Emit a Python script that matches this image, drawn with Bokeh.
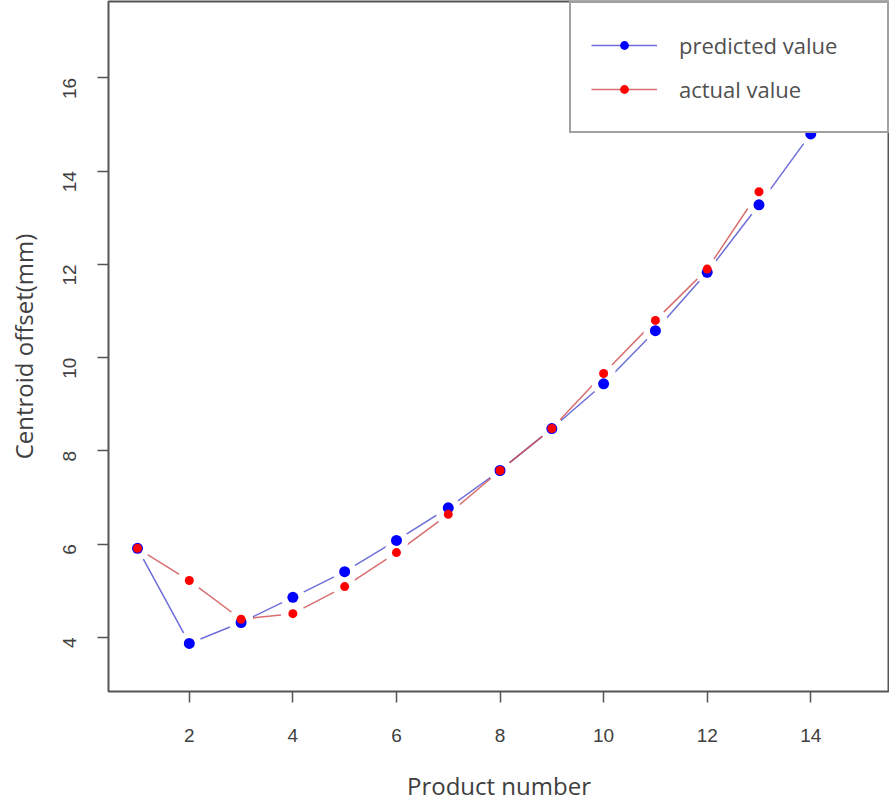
import math
from bokeh.plotting import figure
from bokeh.models import Range1d, FixedTicker, Legend, LegendItem, ColumnDataSource
from bokeh.embed import file_html
from bokeh.resources import INLINE

# ---- data ----
pred_x = [1, 2, 3, 4, 5, 6, 7, 8, 9, 10, 11, 12, 13, 14]
pred_y = [5.91, 3.87, 4.32, 4.86, 5.41, 6.08, 6.78, 7.58, 8.48, 9.44, 10.58, 11.83, 13.28, 14.80]
act_x = [1, 2, 3, 4, 5, 6, 7, 8, 9, 10, 11, 12, 13]
act_y = [5.91, 5.22, 4.39, 4.51, 5.09, 5.82, 6.64, 7.58, 8.48, 9.66, 10.80, 11.90, 13.56]
x_ticks = [2, 4, 6, 8, 10, 12, 14]
y_ticks = [4, 6, 8, 10, 12, 14, 16]
labels = ["predicted value", "actual value"]

TXT = "#404040"

p = figure(width=889, height=804, output_backend="svg", toolbar_location=None,
           x_range=Range1d(0.44, 15.52), y_range=Range1d(2.84, 17.64),
           min_border_left=108, min_border_right=0, min_border_top=1, min_border_bottom=111)
p.background_fill_color = "white"
p.border_fill_color = "white"
p.outline_line_color = "#555555"
p.outline_line_width = 2
p.xgrid.visible = False
p.ygrid.visible = False

for ax in (p.xaxis[0], p.yaxis[0]):
    ax.axis_line_color = None
    ax.major_tick_line_color = "#555555"
    ax.major_tick_line_width = 1.5
    ax.major_tick_out = 11
    ax.major_tick_in = 0
    ax.minor_tick_line_color = None
    ax.major_label_text_font = "Liberation Sans"
    ax.major_label_text_font_size = "19px"
    ax.major_label_text_color = TXT
    ax.axis_label_text_font = "Open Sans"
    ax.axis_label_text_font_size = "24px"
    ax.axis_label_text_font_style = "normal"
    ax.axis_label_text_color = TXT

p.xaxis.ticker = FixedTicker(ticks=x_ticks)
p.yaxis.ticker = FixedTicker(ticks=y_ticks)
p.xaxis.axis_label = "Product number"
p.yaxis.axis_label = "Centroid offset(mm)"
p.xaxis.major_label_standoff = 26
p.xaxis.axis_label_standoff = 24
p.yaxis.major_label_standoff = 28
p.yaxis.axis_label_standoff = 14
p.yaxis.major_label_orientation = math.pi / 2

src_p = ColumnDataSource(dict(x=pred_x, y=pred_y))
src_a = ColumnDataSource(dict(x=act_x, y=act_y))

l_p = p.line("x", "y", source=src_p, line_color="#4a4ad0", line_width=1.5, line_alpha=0.8)
l_a = p.line("x", "y", source=src_a, line_color="#d04a4a", line_width=1.5, line_alpha=0.8)
# white gaps around the points (R type="b")
p.scatter("x", "y", source=src_p, size=24, marker="circle", fill_color="white", line_color=None)
p.scatter("x", "y", source=src_a, size=24, marker="circle", fill_color="white", line_color=None)
d_p = p.scatter("x", "y", source=src_p, size=11, marker="circle", fill_color="#0000ff", line_color=None)
d_a = p.scatter("x", "y", source=src_a, size=9, marker="circle", fill_color="#ff0000", line_color=None)

legend = Legend(items=[LegendItem(label=labels[0], renderers=[l_p, d_p]),
                       LegendItem(label=labels[1], renderers=[l_a, d_a])],
                location="top_right", margin=0, padding=20, spacing=0,
                glyph_width=66, glyph_height=22, label_height=44,
                label_standoff=22, label_width=188,
                label_text_font="Open Sans", label_text_font_size="22px",
                label_text_color="#505050",
                border_line_color="#444444", border_line_width=2,
                background_fill_color="white", background_fill_alpha=1.0)
p.add_layout(legend)

open("out.html", "w").write(file_html(p, INLINE))
